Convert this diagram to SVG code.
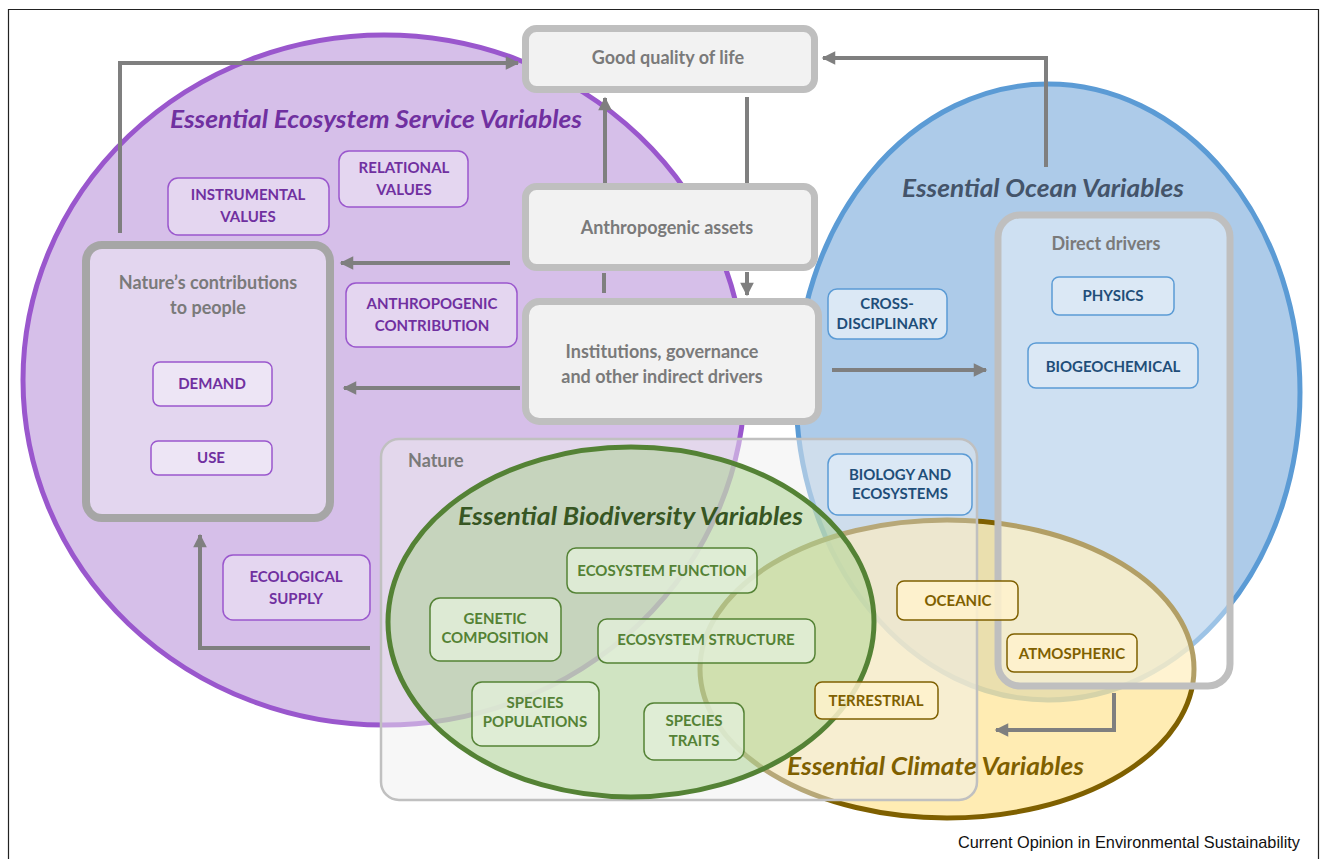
<svg xmlns="http://www.w3.org/2000/svg" width="1321" height="859" viewBox="0 0 1321 859">
<defs>
<marker id="ah" viewBox="0 0 10 10" refX="9" refY="5" markerWidth="3.6" markerHeight="3.4" markerUnits="strokeWidth" orient="auto">
<path d="M0,0 L10,5 L0,10 z" fill="#7f7f7f"/>
</marker>
<style>
text{font-family:Lato,"Open Sans","Liberation Sans",sans-serif}
text.cap{font-family:"Liberation Sans",Arial,sans-serif;font-size:17px;fill:#111}
.ttl{font-size:25px;font-weight:bold;font-style:italic}
.main{font-size:18px;font-weight:bold;fill:#7a7a7a;text-anchor:middle}
.lab{font-size:15px;font-weight:bold;text-anchor:middle}
.cbox{fill:#f2f2f2;stroke:#bfbfbf;stroke-width:7}
.pbox{fill:#e4d6f0;stroke:#9a57cd;stroke-width:1.5}
.pin{fill:#ede5f5;stroke:#9a57cd;stroke-width:1.5}
.bbox{fill:#dbe8f5;stroke:#5b9bd5;stroke-width:1.5}
.gbox{fill:#e2efd9;fill-opacity:0.8;stroke:#548235;stroke-width:1.5}
.ybox{fill:#fff2cc;fill-opacity:0.85;stroke:#7f6000;stroke-width:1.5}
.pt{fill:#7030a0}.bt{fill:#1f4e79}.gt{fill:#548235}.yt{fill:#7f6000}
.conn{fill:none;stroke:#7f7f7f;stroke-width:4}
</style>
</defs>
<rect x="0" y="0" width="1321" height="859" fill="#ffffff"/>
<path d="M8.5,870 V9.5 H1318.5 V870" fill="none" stroke="#222" stroke-width="1.2"/>

<g id="eesv">
<ellipse cx="384" cy="380" rx="361" ry="345" fill="#d6bfe9" stroke="#9a57cd" stroke-width="5"/>
<text class="ttl pt" x="170" y="128" textLength="412" lengthAdjust="spacingAndGlyphs">Essential Ecosystem Service Variables</text>
</g>
<g id="eov">
<ellipse cx="1048" cy="392" rx="252" ry="308" fill="#adcbe9" stroke="#5b9bd5" stroke-width="5"/>
<text class="ttl" x="902" y="197" fill="#44546a" textLength="282" lengthAdjust="spacingAndGlyphs">Essential Ocean Variables</text>
</g>
<g id="ecv-shape">
<ellipse cx="947" cy="669" rx="247" ry="149" fill="#ffe699" fill-opacity="0.75" stroke="#7f6000" stroke-width="5"/>
</g>
<g id="nature">
<rect x="381" y="439" width="596" height="361" rx="18" fill="#efefef" fill-opacity="0.5" stroke="#c0c0c0" stroke-width="2.5"/>
<text x="408" y="467" font-size="18" font-weight="bold" fill="#7a7a7a">Nature</text>
</g>
<g id="ebv">
<ellipse cx="631" cy="622" rx="243" ry="175" fill="#a9d18e" fill-opacity="0.5" stroke="#548235" stroke-width="5"/>
<text class="ttl" x="458" y="525" fill="#375623" textLength="345" lengthAdjust="spacingAndGlyphs">Essential Biodiversity Variables</text>
</g>
<g id="direct-drivers">
<rect x="998" y="215" width="232" height="471" rx="22" fill="#ffffff" fill-opacity="0.4" stroke="#bfbfbf" stroke-width="7"/>
<text class="main" x="1106" y="250">Direct drivers</text>
</g>
<g id="ecv-label">
<text class="ttl yt" x="787" y="775" textLength="297" lengthAdjust="spacingAndGlyphs">Essential Climate Variables</text>
</g>

<g id="connectors">
<path class="conn" d="M120,233 V63 H518" marker-end="url(#ah)"/>
<path class="conn" d="M1046,167 V58 H823" marker-end="url(#ah)"/>
<path class="conn" d="M605,183 V98" marker-end="url(#ah)"/>
<path class="conn" d="M747,97 V183"/>
<path class="conn" d="M747,272 V295" marker-end="url(#ah)"/>
<path class="conn" d="M604,273 V293"/>
<path class="conn" d="M510,263 H341" marker-end="url(#ah)"/>
<path class="conn" d="M520,388 H344" marker-end="url(#ah)"/>
<path class="conn" d="M832,370 H986" marker-end="url(#ah)"/>
<path class="conn" d="M370,648 H200 V535" marker-end="url(#ah)"/>
<path class="conn" d="M1114,693 V730 H996" marker-end="url(#ah)"/>
</g>

<g id="good-quality">
<rect class="cbox" x="525.5" y="28.5" width="289" height="61" rx="11"/>
<text class="main" x="668" y="64">Good quality of life</text>
</g>
<g id="anthropogenic-assets">
<rect class="cbox" x="525.5" y="186.5" width="289" height="81" rx="11"/>
<text class="main" x="667" y="234">Anthropogenic assets</text>
</g>
<g id="institutions">
<rect class="cbox" x="525.5" y="301.5" width="293" height="120" rx="14"/>
<text class="main" x="662" y="358">Institutions, governance</text>
<text class="main" x="662" y="383">and other indirect drivers</text>
</g>

<g id="ncp">
<rect x="86" y="245" width="244" height="273" rx="16" fill="#e3d6ef" stroke="#a6a6a6" stroke-width="8"/>
<text class="main" x="208" y="289">Nature’s contributions</text>
<text class="main" x="208" y="314">to people</text>
</g>
<g id="demand">
<rect class="pin" x="153" y="362" width="119" height="44" rx="7"/>
<text class="lab pt" x="212" y="389">DEMAND</text>
</g>
<g id="use">
<rect class="pin" x="151" y="441" width="121" height="34" rx="7"/>
<text class="lab pt" x="211" y="463">USE</text>
</g>
<g id="instrumental">
<rect class="pbox" x="168" y="178" width="161" height="57" rx="10"/>
<text class="lab pt" x="248" y="200">INSTRUMENTAL</text>
<text class="lab pt" x="248" y="222">VALUES</text>
</g>
<g id="relational">
<rect class="pbox" x="339" y="151" width="129" height="56" rx="10"/>
<text class="lab pt" x="404" y="173">RELATIONAL</text>
<text class="lab pt" x="404" y="195">VALUES</text>
</g>
<g id="anthropogenic-contribution">
<rect class="pbox" x="346" y="283" width="171" height="64" rx="10"/>
<text class="lab pt" x="432" y="309">ANTHROPOGENIC</text>
<text class="lab pt" x="432" y="331">CONTRIBUTION</text>
</g>
<g id="ecological-supply">
<rect class="pbox" x="223" y="555" width="147" height="65" rx="10"/>
<text class="lab pt" x="296" y="582">ECOLOGICAL</text>
<text class="lab pt" x="296" y="604">SUPPLY</text>
</g>

<g id="cross-disciplinary">
<rect class="bbox" x="828" y="289" width="119" height="50" rx="9"/>
<text class="lab bt" x="887" y="309">CROSS-</text>
<text class="lab bt" x="887" y="329">DISCIPLINARY</text>
</g>
<g id="physics">
<rect class="bbox" x="1052" y="277" width="122" height="38" rx="7"/>
<text class="lab bt" x="1113" y="301">PHYSICS</text>
</g>
<g id="biogeochemical">
<rect class="bbox" x="1028" y="343" width="170" height="45" rx="8"/>
<text class="lab bt" x="1113" y="372">BIOGEOCHEMICAL</text>
</g>
<g id="biology">
<rect class="bbox" x="828" y="454" width="144" height="61" rx="10"/>
<text class="lab bt" x="900" y="480">BIOLOGY AND</text>
<text class="lab bt" x="900" y="499">ECOSYSTEMS</text>
</g>

<g id="ecosystem-function">
<rect class="gbox" x="567" y="548" width="190" height="45" rx="9"/>
<text class="lab gt" x="662" y="576">ECOSYSTEM FUNCTION</text>
</g>
<g id="genetic-composition">
<rect class="gbox" x="430" y="598" width="131" height="63" rx="10"/>
<text class="lab gt" x="495" y="624">GENETIC</text>
<text class="lab gt" x="495" y="643">COMPOSITION</text>
</g>
<g id="ecosystem-structure">
<rect class="gbox" x="598" y="619" width="217" height="44" rx="9"/>
<text class="lab gt" x="706" y="645">ECOSYSTEM STRUCTURE</text>
</g>
<g id="species-populations">
<rect class="gbox" x="472" y="682" width="127" height="64" rx="10"/>
<text class="lab gt" x="535" y="708">SPECIES</text>
<text class="lab gt" x="535" y="727">POPULATIONS</text>
</g>
<g id="species-traits">
<rect class="gbox" x="644" y="703" width="100" height="57" rx="10"/>
<text class="lab gt" x="694" y="726">SPECIES</text>
<text class="lab gt" x="694" y="746">TRAITS</text>
</g>

<g id="oceanic">
<rect class="ybox" x="897" y="581" width="121" height="39" rx="7"/>
<text class="lab yt" x="958" y="606">OCEANIC</text>
</g>
<g id="atmospheric">
<rect class="ybox" x="1007" y="634" width="130" height="38" rx="7"/>
<text class="lab yt" x="1072" y="659">ATMOSPHERIC</text>
</g>
<g id="terrestrial">
<rect class="ybox" x="815" y="682" width="123" height="37" rx="7"/>
<text class="lab yt" x="876" y="706">TERRESTRIAL</text>
</g>

<text class="cap" x="958" y="848" textLength="342" lengthAdjust="spacingAndGlyphs">Current Opinion in Environmental Sustainability</text>
</svg>
